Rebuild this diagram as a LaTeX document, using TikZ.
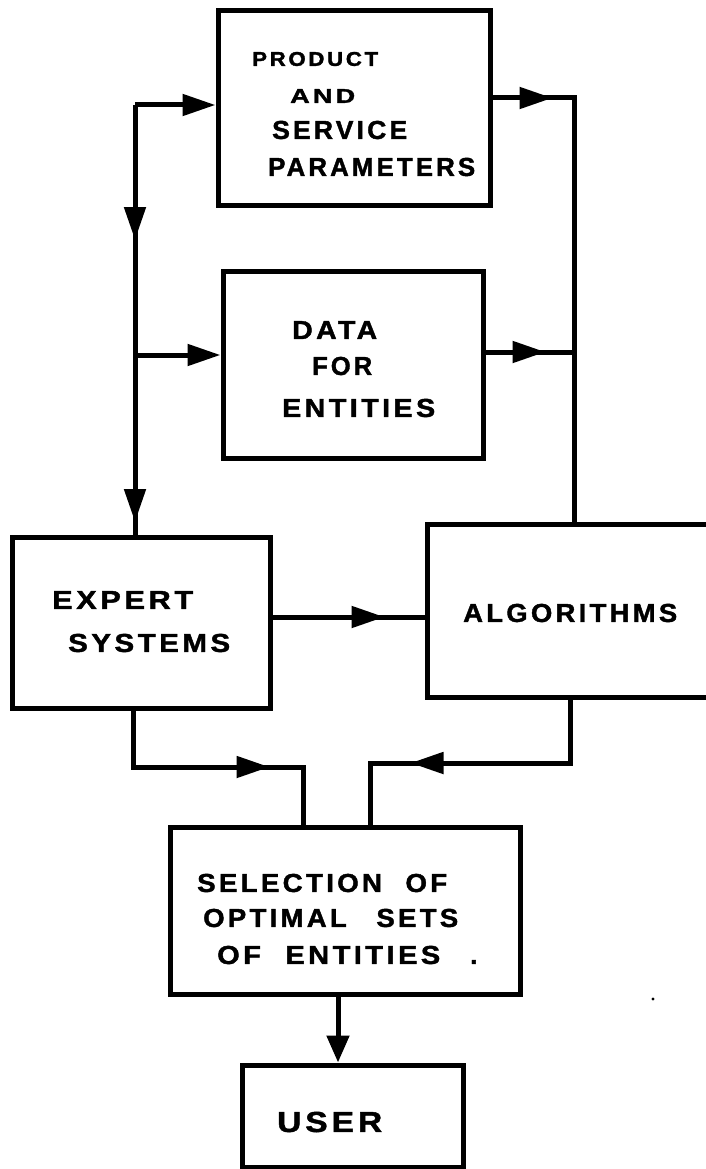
\documentclass[tikz,border=0pt]{standalone}
\usepackage{graphicx}
\usepackage{fontspec}
\setmainfont{Liberation Sans}
\newfontfamily\handfont[LetterSpace=12,FakeBold=1.5]{Liberation Sans Bold}
\newcommand{\fw}[2]{\resizebox{#1}{\height}{#2}}
\usetikzlibrary{arrows.meta,decorations.markings}
\tikzset{
  box/.style={draw, line width=5pt, rectangle, inner sep=0pt},
  txt/.style={anchor=west, inner sep=0pt, font=\handfont\fontsize{26}{26}\selectfont},
  smalltxt/.style={txt, font=\handfont\fontsize{20}{20}\selectfont},
  bigtxt/.style={txt, font=\handfont\fontsize{29}{29}\selectfont},
  conn/.style={line width=5pt, line join=miter},
  headtip/.tip={Triangle[length=33pt,width=21pt]},
  shorttip/.tip={Triangle[length=27pt,width=22pt]},
  endarrow/.style={conn, -{headtip}},
  midarrows/.style={conn, postaction={decorate},
    decoration={markings, #1}},
}
\begin{document}
\begin{tikzpicture}[x=1pt,y=-1pt]
\useasboundingbox (0,0) rectangle (705,1169);
% boxes
\node[box, minimum width=272pt, minimum height=194pt] (psp) at (354,108) {};
\node[box, minimum width=260pt, minimum height=187pt] (data) at (353,364.5) {};
\node[box, minimum width=258pt, minimum height=171pt] (exp) at (141,622.5) {};
\node[box, minimum width=285pt, minimum height=173pt] (algo) at (569.5,610.5) {};
\node[box, minimum width=350pt, minimum height=167pt] (sel) at (345,910.5) {};
\node[box, minimum width=221pt, minimum height=102pt] (user) at (352.5,1116) {};
% texts
\node[smalltxt] (t1) at (252,59) {\fw{126pt}{PRODUCT}};
\node[smalltxt] (t2) at (290,96) {\fw{65pt}{AND}};
\node[txt] (t3) at (272,130) {\fw{135pt}{SERVICE}};
\node[txt] (t4) at (268,167) {\fw{207pt}{PARAMETERS}};
\node[txt] (t5) at (292,330) {\fw{85pt}{DATA}};
\node[txt] (t6) at (312,366) {\fw{60pt}{FOR}};
\node[txt] (t7) at (282,408) {\fw{153pt}{ENTITIES}};
\node[txt] (t8) at (52,600) {\fw{141pt}{EXPERT}};
\node[txt] (t9) at (68,643) {\fw{162pt}{SYSTEMS}};
\node[txt] (t10) at (463,613) {\fw{214pt}{ALGORITHMS}};
\node[txt] (t11) at (197,883) {\fw{250pt}{SELECTION\hspace{22pt}OF}};
\node[txt] (t12) at (203,918) {\fw{255pt}{OPTIMAL\hspace{28pt}SETS}};
\node[txt] (t13) at (217,955) {\fw{223pt}{OF\hspace{22pt}ENTITIES}\hspace{30pt}.};
\node[bigtxt] (t14) at (277,1122) {\fw{105pt}{USER}};
% junction coordinates
\coordinate (tl) at (135,105);
\coordinate (dl) at (135,355);
\coordinate (tr) at (574,98);
\coordinate (dr) at (574,352);
\coordinate (ea) at (270,617);
\coordinate (el) at (133,767);
\coordinate (er) at (303,767);
\coordinate (ar) at (570,763);
\coordinate (al) at (370,763);
\coordinate (su) at (338,0);
% connectors
\draw[endarrow] (tl) -- (tl -| psp.west);
\draw[midarrows={mark=at position 135pt with {\arrow{headtip}}, mark=at position 417pt with {\arrow{headtip}}}]
  (tl) -- (tl |- exp.north);
\draw[endarrow] (dl) -- (dl -| data.west);
\draw[midarrows={mark=at position 60pt with {\arrow{headtip}}}]
  (tr -| psp.east) -- (tr) -- (tr |- algo.north);
\draw[midarrows={mark=at position 60pt with {\arrow{headtip}}}]
  (dr -| data.east) -- (dr);
\draw[midarrows={mark=at position 112pt with {\arrow{headtip}}}]
  (ea -| exp.east) -- (ea -| algo.west);
\draw[midarrows={mark=at position 193pt with {\arrow{headtip}}}]
  (el |- exp.south) -- (el) -- (er) -- (er |- sel.north);
\draw[midarrows={mark=at position 223pt with {\arrow{headtip}}}]
  (ar |- algo.south) -- (ar) -- (al) -- (al |- sel.north);
\draw[conn, -{shorttip}] (su |- sel.south) -- (su |- user.north);
% stray dot
\fill (653,999) circle (1.6pt);
\end{tikzpicture}
\end{document}
